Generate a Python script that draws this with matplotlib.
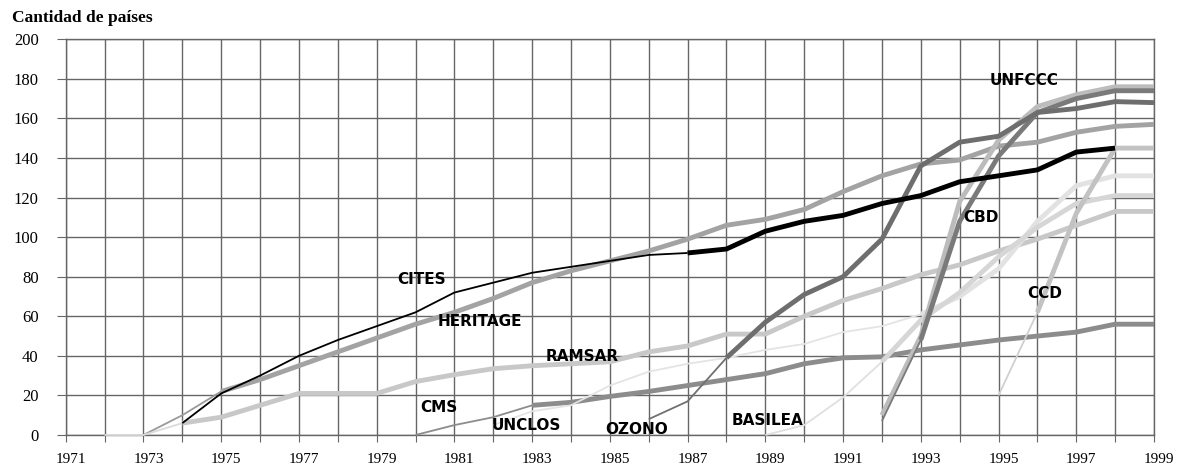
import matplotlib
matplotlib.use('Agg')
import matplotlib.pyplot as plt
import matplotlib.transforms as mtransforms

plt.rcParams['font.family'] = ['Liberation Serif', 'DejaVu Serif']

# datos: cantidad de paises por convencion y año
cites_years = list(range(1974, 1999))
cites = [6, 21, 30, 40, 48, 55, 62, 72, 77, 82, 85, 88, 91, 92, 94, 103, 108,
         111, 117, 121, 128, 131, 134, 143, 145]

heritage_years = list(range(1973, 2000))
heritage = [0, 10, 22, 28, 35, 42, 49, 56, 62, 69, 77, 83, 88, 93, 99, 106, 109,
            114, 123, 131, 137, 139, 146, 148, 153, 156, 157]

ramsar_years = list(range(1972, 2000))
ramsar = [0, 0, 6, 9, 15, 21, 21, 21, 27, 30.5, 33.5, 35, 36, 37, 42, 45, 51, 51,
          60, 68, 74, 81, 86, 93, 99, 106, 113, 113]

cms_years = list(range(1980, 2000))
cms = [0, 5, 9, 15, 16.5, 19.5, 22, 25, 28, 31, 36, 39, 39.5, 43, 45.5, 48, 50,
       52, 56, 56]

unclos_years = list(range(1982, 2000))
unclos = [5, 12, 15, 25, 32, 36, 39, 43, 46, 52, 55, 61, 70, 84, 108, 126, 131, 131]

ozono_years = list(range(1986, 2000))
ozono = [8, 17, 39, 57, 71, 80, 99, 136, 148, 151, 163, 165, 168.5, 168]

basilea_years = list(range(1989, 2000))
basilea = [0, 5, 19, 37, 58, 72, 90, 105, 117, 121, 121]

cbd_years = list(range(1992, 2000))
cbd = [7, 48, 108, 141, 163, 170, 174, 174]

unfccc_years = list(range(1992, 2000))
unfccc = [10, 50, 118, 149, 166, 172, 176, 176]

ccd_years = list(range(1995, 2000))
ccd = [20, 62, 112, 145, 145]

series = [
    ('HERITAGE', heritage_years, heritage),
    ('RAMSAR', ramsar_years, ramsar),
    ('CMS', cms_years, cms),
    ('UNCLOS', unclos_years, unclos),
    ('BASILEA', basilea_years, basilea),
    ('CCD', ccd_years, ccd),
    ('UNFCCC', unfccc_years, unfccc),
    ('CBD', cbd_years, cbd),
    ('OZONO', ozono_years, ozono),
    ('CITES', cites_years, cites),
]

# estilo: color fino, color grueso, año desde el que la linea es gruesa
styles = {
    'CITES': ('black', 'black', 1987),
    'HERITAGE': ('#9a9a9a', '#a3a3a3', 1975),
    'RAMSAR': ('#dadada', '#c8c8c8', 1974),
    'CMS': ('#8c8c8c', '#8c8c8c', 1983),
    'UNCLOS': ('#e4e4e4', '#e2e2e2', 1993),
    'OZONO': ('#707070', '#6e6e6e', 1988),
    'BASILEA': ('#e0e0e0', '#d6d6d6', 1992),
    'CBD': ('#7a7a7a', '#7a7a7a', 1993),
    'UNFCCC': ('#bcbcbc', '#bcbcbc', 1992),
    'CCD': ('#d0d0d0', '#c2c2c2', 1996),
}

# posiciones de las etiquetas (año, valor)
label_pos = {
    'CITES': (1980.15, 78.5),
    'HERITAGE': (1981.65, 57.5),
    'RAMSAR': (1984.3, 39.6),
    'CMS': (1980.6, 13.8),
    'UNCLOS': (1982.85, 4.7),
    'OZONO': (1985.7, 3.0),
    'BASILEA': (1989.05, 7.1),
    'CCD': (1996.2, 71.4),
    'CBD': (1994.55, 109.7),
    'UNFCCC': (1995.65, 179.4),
}

fig = plt.figure(figsize=(11.78, 4.68), dpi=100)
ax = fig.add_axes([65.7 / 1178, 1 - 435 / 468, (1154 - 65.7) / 1178, (435 - 39.3) / 468])

grid_color = '#666666'
ax.set_xlim(1971, 1999)
ax.set_ylim(0, 200)
years_all = list(range(1971, 2000))
ax.set_xticks(years_all)
ax.set_xticklabels([str(y) if y % 2 == 1 else '' for y in years_all], fontsize=11)
ax.set_yticks(range(0, 201, 20))
ax.set_yticklabels([str(v) for v in range(0, 201, 20)], fontsize=12)
ax.grid(True, color=grid_color, linewidth=1.0, zorder=0)
ax.set_axisbelow(True)
ax.tick_params(axis='x', direction='out', length=5, color=grid_color, pad=8)
ax.tick_params(axis='y', direction='out', length=6.5, color=grid_color, pad=13)
for sp in ax.spines.values():
    sp.set_color(grid_color)
    sp.set_linewidth(1.0)

# desplazar etiquetas del eje x un poco a la derecha
offset = mtransforms.ScaledTranslation(5 / 100, 0, fig.dpi_scale_trans)
for lbl in ax.get_xticklabels():
    lbl.set_transform(lbl.get_transform() + offset)

for z, (name, yrs, vals) in enumerate(series):
    thin_c, thick_c, t0 = styles[name]
    thin_x = [y for y in yrs if y <= t0]
    thin_v = [v for y, v in zip(yrs, vals) if y <= t0]
    thick_x = [y for y in yrs if y >= t0]
    thick_v = [v for y, v in zip(yrs, vals) if y >= t0]
    if len(thin_x) > 1:
        ax.plot(thin_x, thin_v, color=thin_c, linewidth=1.3, zorder=3 + z,
                solid_capstyle='butt', clip_on=False)
    if len(thick_x) > 1:
        ax.plot(thick_x, thick_v, color=thick_c, linewidth=3.5, zorder=3 + z,
                solid_joinstyle='round', solid_capstyle='butt', clip_on=False)

for name, (lx, ly) in label_pos.items():
    ax.text(lx, ly, name, ha='center', va='center', fontsize=11,
            fontweight='bold', family=['DejaVu Sans'], zorder=20)

fig.text(12 / 1178, 1 - 18 / 468, 'Cantidad de países', fontsize=12.5,
         fontweight='bold', va='center', ha='left')

fig.savefig('out.png', dpi=100)
